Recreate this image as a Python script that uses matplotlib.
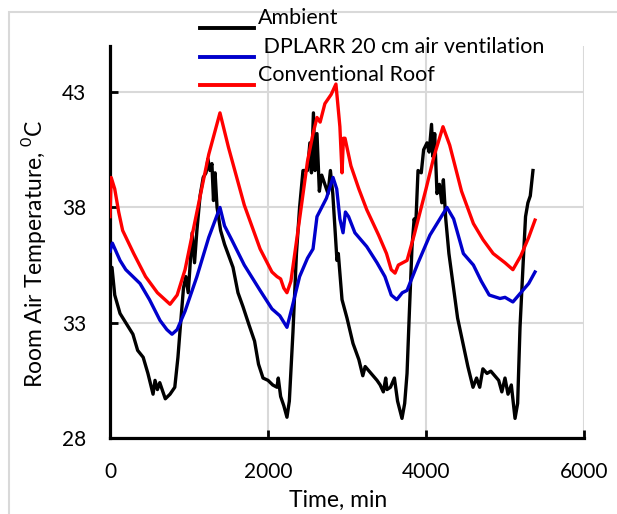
import matplotlib
matplotlib.use("Agg")
import matplotlib.pyplot as plt
from matplotlib.lines import Line2D
from matplotlib.patches import Rectangle

plt.rcParams['font.family'] = ['Lato', 'DejaVu Sans']
plt.rcParams['mathtext.fontset'] = 'custom'
plt.rcParams['mathtext.rm'] = 'Lato'

# data
t_ambient = [0, 25, 60, 127, 200, 290, 350, 420, 480, 545, 570, 600, 630, 700, 760, 820, 860,
             885, 930, 960, 990, 1010, 1040, 1070, 1100, 1140, 1180, 1215, 1240, 1265, 1290,
             1310, 1330, 1355, 1400, 1450, 1557, 1620, 1683, 1760, 1830, 1880, 1937, 2000,
             2060, 2114, 2130, 2160, 2200, 2240, 2270, 2316, 2360, 2400, 2443, 2500, 2530,
             2550, 2575, 2595, 2620, 2650, 2680, 2720, 2760, 2790, 2820, 2850, 2873, 2890,
             2937, 3000, 3076, 3150, 3200, 3230, 3280, 3330, 3380, 3420, 3460, 3490, 3506,
             3550, 3600, 3640, 3696, 3730, 3760, 3790, 3823, 3850, 3870, 3899, 3940, 3970,
             4013, 4040, 4070, 4089, 4110, 4139, 4170, 4200, 4220, 4250, 4290, 4329, 4400,
             4468, 4530, 4595, 4640, 4680, 4720, 4772, 4820, 4870, 4920, 4960, 5000, 5038,
             5080, 5127, 5160, 5190, 5230, 5260, 5290, 5320, 5354]
ambient = [34.7, 35.4, 34.2, 33.4, 33.0, 32.5, 31.8, 31.5, 30.8, 29.9, 30.5, 30.1, 30.4, 29.7,
           29.9, 30.2, 31.5, 32.6, 34.5, 35.0, 34.3, 35.3, 36.9, 35.6, 37.0, 38.5, 39.3, 39.5,
           40.1, 39.6, 39.9, 38.3, 39.5, 38.0, 37.0, 36.4, 35.4, 34.3, 33.7, 32.9, 32.2, 31.2,
           30.6, 30.5, 30.3, 30.2, 30.6, 29.8, 29.4, 28.9, 29.6, 32.6, 36.0, 38.0, 39.6, 39.6,
           40.8, 39.5, 42.1, 39.6, 41.2, 38.7, 39.4, 39.0, 38.6, 39.6, 38.6, 37.0, 35.7, 36.0,
           34.0, 33.2, 32.1, 31.4, 30.7, 31.1, 30.9, 30.7, 30.5, 30.3, 30.0, 30.6, 30.1, 30.2,
           30.6, 29.6, 28.85, 29.5, 30.8, 33.5, 36.3, 37.5, 37.2, 39.6, 39.5, 40.5, 40.8, 40.4,
           41.6, 40.2, 41.2, 38.6, 39.0, 38.2, 39.2, 37.5, 36.0, 35.0, 33.2, 32.1, 31.1, 30.2,
           30.6, 30.2, 31.0, 30.8, 30.9, 30.7, 30.5, 30.0, 30.6, 29.9, 30.3, 28.85, 29.5, 32.8,
           35.6, 37.6, 38.2, 38.5, 39.6]

t_dplarr = [0, 30, 127, 200, 380, 500, 633, 720, 785, 850, 950, 1100, 1250, 1392, 1450, 1540,
            1700, 1900, 2050, 2150, 2240, 2300, 2400, 2500, 2570, 2620, 2680, 2740, 2823, 2870,
            2910, 2950, 2980, 3020, 3100, 3250, 3380, 3480, 3560, 3630, 3700, 3760, 3900, 4050,
            4265, 4350, 4473, 4600, 4700, 4800, 4937, 5000, 5100, 5200, 5300, 5380]
dplarr = [36.1, 36.45, 35.7, 35.3, 34.7, 34.0, 33.1, 32.7, 32.5, 32.7, 33.5, 35.0, 36.7, 38.0,
          37.2, 36.6, 35.5, 34.4, 33.6, 33.3, 32.8, 33.6, 35.0, 35.8, 36.2, 37.6, 38.0, 38.4,
          39.3, 38.8, 37.5, 36.9, 37.8, 37.6, 36.9, 36.3, 35.6, 35.0, 34.2, 34.0, 34.3, 34.4,
          35.6, 36.8, 38.0, 37.5, 36.0, 35.5, 34.8, 34.2, 34.05, 34.1, 33.9, 34.3, 34.7, 35.2]

t_conv = [0, 15, 60, 110, 160, 300, 450, 600, 760, 850, 950, 1100, 1250, 1392, 1500, 1700,
          1900, 2050, 2114, 2160, 2200, 2240, 2290, 2400, 2500, 2570, 2620, 2660, 2720, 2800,
          2860, 2910, 2937, 2955, 2975, 3050, 3150, 3250, 3400, 3500, 3560, 3608, 3650, 3760,
          3850, 4000, 4100, 4215, 4300, 4450, 4600, 4722, 4850, 5000, 5100, 5200, 5300, 5380]
conv = [37.6, 39.3, 38.8, 37.8, 37.0, 36.0, 35.0, 34.3, 33.8, 34.2, 35.3, 37.8, 40.3, 42.1,
        40.6, 38.1, 36.2, 35.2, 35.0, 34.9, 34.5, 34.3, 34.8, 37.5, 40.0, 41.2, 41.9, 41.7,
        42.5, 42.9, 43.35, 41.5, 39.5, 41.0, 41.0, 39.8, 38.8, 37.9, 36.8, 36.0, 35.3, 35.15,
        35.5, 35.7, 36.8, 38.8, 40.2, 41.5, 40.7, 38.7, 37.3, 36.6, 36.0, 35.6, 35.3, 35.9,
        36.7, 37.45]

labels = ['Ambient', ' DPLARR 20 cm air ventilation', 'Conventional Roof']
colors = ['black', '#0000cc', 'red']

fig = plt.figure(figsize=(6.17, 5.14), dpi=100)
fig.patches.append(Rectangle((9 / 617, -0.1), 1.2, 1.1 - 12 / 514, transform=fig.transFigure,
                             fill=False, edgecolor='#d9d9d9', linewidth=1.5))
ax = fig.add_axes([110 / 617, 1 - 438 / 514, 474 / 617, 392 / 514])

for t, v, c in zip([t_ambient, t_dplarr, t_conv], [ambient, dplarr, conv], colors):
    ax.plot(t, v, color=c, linewidth=2.4, zorder=3)

ax.set_xlim(0, 6000)
ax.set_ylim(28, 45)
ax.set_xticks([0, 2000, 4000, 6000])
ax.set_yticks([28, 33, 38, 43])
ax.grid(True, color='#d9d9d9', linewidth=1.5)
ax.set_axisbelow(True)
for s in ['top', 'right']:
    ax.spines[s].set_visible(False)
for s in ['left', 'bottom']:
    ax.spines[s].set_linewidth(2.3)
ax.tick_params(direction='in', length=6, width=2, labelsize=15, pad=17)

ax.set_xlabel('Time, min', fontsize=16.5, va='center')
ax.xaxis.set_label_coords(0.481, -0.158)
ax.set_ylabel('Room Air Temperature, $^{0}$C', fontsize=16.5, va='center')
ax.yaxis.set_label_coords(-0.162, 0.47)

# legend drawn by hand, as in the reference
for y_line, lab, c in zip([28, 57, 85], labels, colors):
    yf = 1 - y_line / 514
    fig.add_artist(Line2D([200 / 617, 254 / 617], [yf, yf], color=c, linewidth=2.8,
                          transform=fig.transFigure))
    fig.text(258 / 617, 1 - (y_line - 10) / 514, lab, fontsize=15.5, va='center', ha='left')

fig.savefig('out.png', dpi=100)
